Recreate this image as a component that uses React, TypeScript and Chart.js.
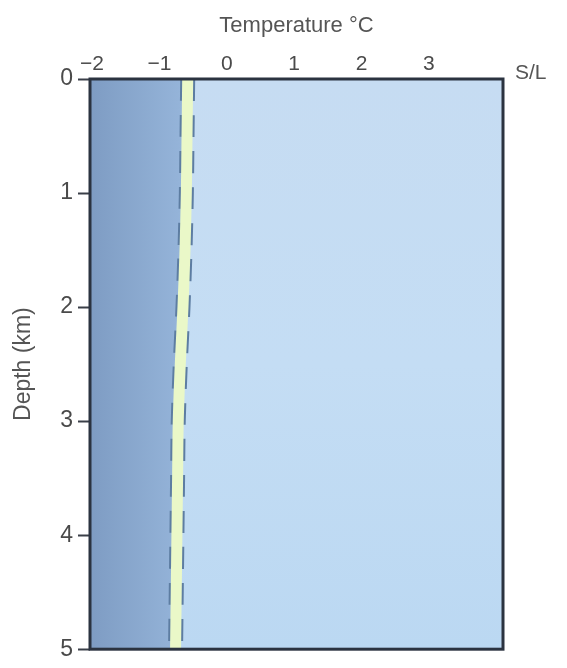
import React, { useEffect, useRef } from 'react';
import { Chart, registerables } from 'chart.js';

Chart.register(...registerables);

// Depth below sea level (km) and temperature (°C) of the profile
const depthKm = [0, 0.5, 1, 1.5, 2, 2.5, 3, 3.5, 4, 4.5, 5];
const temperatureC = [-0.58, -0.59, -0.6, -0.62, -0.65, -0.69, -0.72, -0.73, -0.74, -0.75, -0.76];

// Axis ticks and limits
const temperatureTicks = [-2, -1, 0, 1, 2, 3];
const depthTicks = [0, 1, 2, 3, 4, 5];
const tempMin = -2.03;
const tempMax = 4.1;
const depthMin = 0;
const depthMax = 5;

const xTitle = 'Temperature °C';
const yTitle = 'Depth (km)';
const surfaceLabel = 'S/L';

const FONT = "'Liberation Sans', Arial, sans-serif";

export default function App() {
  const canvasRef = useRef<HTMLCanvasElement | null>(null);

  useEffect(() => {
    document.body.style.margin = '0';
    const canvas = canvasRef.current;
    if (!canvas) return;

    const points = depthKm.map((d, i) => ({ x: temperatureC[i], y: d }));

    const framePlugin = {
      id: 'frame',
      beforeDatasetsDraw(chart: any) {
        const { ctx, chartArea } = chart;
        ctx.save();
        const g = ctx.createLinearGradient(0, chartArea.top, 0, chartArea.bottom);
        g.addColorStop(0, '#c6dcf2');
        g.addColorStop(0.5, '#c4ddf4');
        g.addColorStop(1, '#bbd8f2');
        ctx.fillStyle = g;
        ctx.fillRect(chartArea.left, chartArea.top, chartArea.right - chartArea.left, chartArea.bottom - chartArea.top);
        ctx.restore();
      },
      afterDatasetsDraw(chart: any) {
        const { ctx, chartArea } = chart;
        ctx.save();
        ctx.strokeStyle = '#2b3340';
        ctx.lineWidth = 3;
        ctx.strokeRect(chartArea.left, chartArea.top, chartArea.right - chartArea.left, chartArea.bottom - chartArea.top);
        ctx.restore();
      },
      afterDraw(chart: any) {
        const { ctx, chartArea } = chart;
        ctx.save();
        ctx.fillStyle = '#555555';
        ctx.font = `21px ${FONT}`;
        ctx.textAlign = 'left';
        ctx.textBaseline = 'middle';
        ctx.fillText(surfaceLabel, chartArea.right + 12, chartArea.top - 6);
        ctx.restore();
      },
    };

    const leftFill = (c: any) => {
      const chart = c.chart;
      const area = chart.chartArea;
      if (!area) return '#8fb0d6';
      const g = chart.ctx.createLinearGradient(area.left, 0, area.left + 95, 0);
      g.addColorStop(0, '#7e9cc3');
      g.addColorStop(1, '#96b5da');
      return g;
    };

    const chart = new Chart(canvas, {
      type: 'line',
      data: {
        datasets: [
          {
            label: 'cold side',
            data: points,
            fill: { value: tempMin },
            backgroundColor: leftFill,
            borderWidth: 0,
            borderColor: 'rgba(0,0,0,0)',
            pointRadius: 0,
            tension: 0.3,
            order: 5,
          },
          {
            label: 'edge',
            data: points,
            fill: false,
            borderColor: '#5d7da2',
            borderWidth: 15,
            borderDash: [22, 14],
            pointRadius: 0,
            tension: 0.3,
            order: 3,
          },
          {
            label: 'temperature',
            data: points,
            fill: false,
            borderColor: '#eaf8c8',
            borderWidth: 11,
            pointRadius: 0,
            tension: 0.3,
            order: 1,
          },
        ],
      },
      options: {
        responsive: false,
        animation: false,
        indexAxis: 'y',
        layout: { padding: { left: 0, right: 64, top: 0, bottom: 16 } },
        plugins: {
          legend: { display: false },
          tooltip: { enabled: false },
        },
        scales: {
          x: {
            type: 'linear',
            position: 'top',
            min: tempMin,
            max: tempMax,
            afterBuildTicks: (scale: any) => {
              scale.ticks = temperatureTicks.map((v) => ({ value: v }));
            },
            afterFit: (scale: any) => {
              scale.height = 79;
            },
            grid: { display: true, drawOnChartArea: false, drawTicks: false, color: '#2b3340' },
            border: { display: false },
            ticks: {
              padding: 2,
              color: '#4a4a4a',
              font: { family: FONT, size: 21 },
              callback: (v: any) => (Number(v) < 0 ? '\u2212' + Math.abs(Number(v)) : String(v)),
            },
            title: {
              display: true,
              text: xTitle,
              color: '#555555',
              font: { family: FONT, size: 22 },
              padding: { top: 13, bottom: 0 },
            },
          },
          y: {
            type: 'linear',
            reverse: true,
            min: depthMin,
            max: depthMax,
            afterBuildTicks: (scale: any) => {
              scale.ticks = depthTicks.map((v) => ({ value: v }));
            },
            afterFit: (scale: any) => {
              scale.width = 90;
            },
            grid: { display: true, drawOnChartArea: false, drawTicks: true, tickLength: 12, tickWidth: 2, color: '#3a3f48' },
            border: { display: false },
            ticks: {
              padding: 5,
              color: '#4a4a4a',
              font: { family: FONT, size: 23 },
            },
            title: {
              display: true,
              text: yTitle,
              color: '#555555',
              font: { family: FONT, size: 23 },
              padding: { top: 10, bottom: 0 },
            },
          },
        },
      },
      plugins: [framePlugin],
    } as any);

    return () => {
      chart.destroy();
    };
  }, []);

  return (
    <div style={{ width: 567, height: 668, background: '#ffffff' }}>
      <canvas ref={canvasRef} width={567} height={668} />
    </div>
  );
}
